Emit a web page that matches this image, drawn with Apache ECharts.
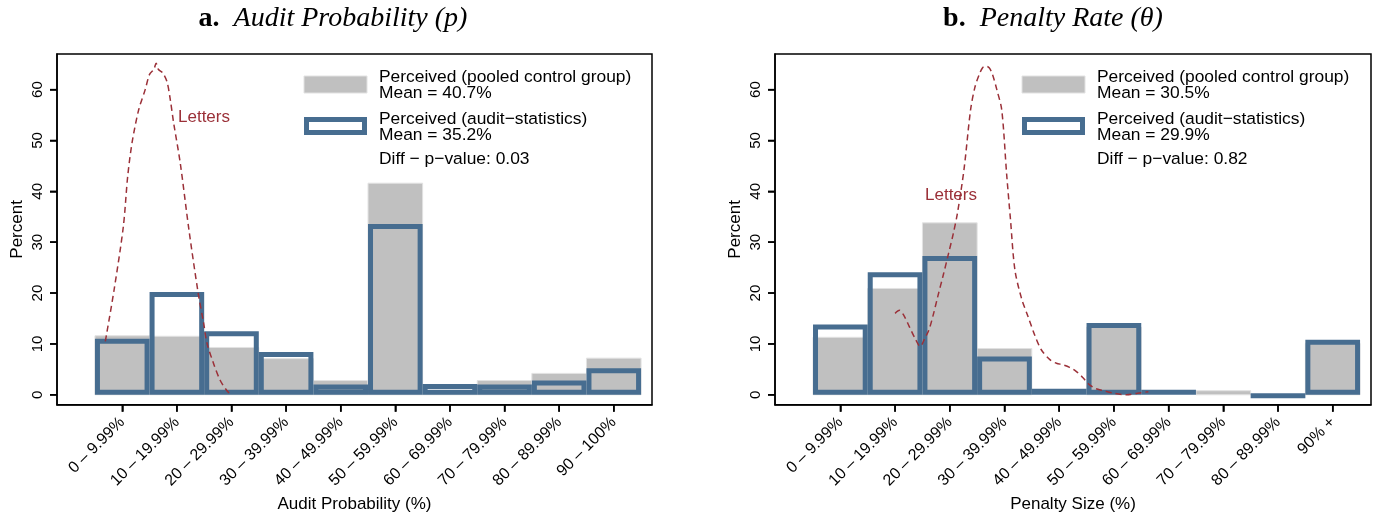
<!DOCTYPE html>
<html><head><meta charset="utf-8">
<script src="https://cdn.jsdelivr.net/npm/echarts@6/dist/echarts.min.js"></script>
<style>html,body{margin:0;padding:0;background:#fff}#c{width:1377px;height:518px}</style>
</head><body><div id="c"></div>
<script>
// ---------------- data ----------------
const auditCats = ['0 – 9.99%','10 – 19.99%','20 – 29.99%','30 – 39.99%','40 – 49.99%','50 – 59.99%','60 – 69.99%','70 – 79.99%','80 – 89.99%','90 – 100%'];
const penaltyCats = ['0 – 9.99%','10 – 19.99%','20 – 29.99%','30 – 39.99%','40 – 49.99%','50 – 59.99%','60 – 69.99%','70 – 79.99%','80 – 89.99%','90% +'];
const yTicks = [0,10,20,30,40,50,60];
const xTicks = [0,1,2,3,4,5,6,7,8,9];

const auditControl = [11.6, 11.5, 9.3, 7.1, 2.8, 41.6, 0.5, 2.8, 4.2, 7.2];
const auditStats   = [11.0, 20.2, 12.5, 8.4, 2.0, 33.6, 2.1, 2.0, 2.8, 5.2];
const penaltyControl = [11.3, 20.9, 33.8, 9.1, 0.0, 13.3, 0.0, 0.8, 0.0, 10.1];
const penaltyStats   = [13.8, 24.1, 27.3, 7.5, 1.2, 14.1, 1.0, 0.0, 0.3, 10.8];

// "Letters" density curves (x in bin-index units, y in percent)
const lettersAudit = [[-0.31,10.5],[-0.15,20.6],[0.02,33.1],[0.10,43.0],[0.18,49.6],[0.30,56.0],[0.42,60.0],[0.50,63.0],[0.58,64.0],[0.62,65.2],[0.66,64.0],[0.74,63.3],[0.82,61.5],[0.88,58.0],[0.94,53.5],[1.06,45.7],[1.22,32.5],[1.39,20.0],[1.49,14.1],[1.55,10.2],[1.67,6.2],[1.79,2.9],[1.91,0.9],[1.99,0.0]];
const lettersPenalty = [[1.00,16.0],[1.08,16.6],[1.16,15.6],[1.26,13.4],[1.36,11.2],[1.46,9.5],[1.54,11.0],[1.62,12.8],[1.70,15.8],[1.78,19.3],[1.88,23.5],[1.98,27.9],[2.06,31.5],[2.14,35.7],[2.26,44.3],[2.38,56.0],[2.46,60.5],[2.54,63.0],[2.60,64.3],[2.66,64.6],[2.72,64.3],[2.78,63.0],[2.86,60.0],[2.95,56.0],[3.04,43.3],[3.11,34.4],[3.19,24.6],[3.31,19.0],[3.43,15.4],[3.55,11.8],[3.67,8.9],[3.83,6.9],[3.95,6.2],[4.07,5.9],[4.19,5.4],[4.31,4.6],[4.43,3.4],[4.55,2.0],[4.67,1.2],[4.79,0.85],[5.00,0.3],[5.23,0.0],[5.43,0.3],[5.63,0.6]];

const legendA = ['Perceived (pooled control group)','Mean = 40.7%','Perceived (audit−statistics)','Mean = 35.2%','Diff − p−value: 0.03'];
const legendB = ['Perceived (pooled control group)','Mean = 30.5%','Perceived (audit−statistics)','Mean = 29.9%','Diff − p−value: 0.82'];

// ---------------- styles ----------------
const FONT = '"Liberation Sans", Arial, sans-serif';
const SERIF = '"Liberation Serif", "Times New Roman", serif';
const GRAY = '#c0c0c0', GRAY_EDGE = '#e2e2e2';
const BLUE = '#476d90';
const RED = '#9b3038';
const LW = 5;
const XMIN = -1.195, XMAX = 9.70, YMIN = -1.97, YMAX = 67;
const TICK = 7;

function grayBar(params, api) {
  const i = api.value(0), v = api.value(1);
  const p0 = api.coord([i - 0.5, 0]), p1 = api.coord([i + 0.5, v]);
  const h = p0[1] - p1[1];
  if (h <= 0.01) return null;
  return {type:'rect', shape:{x:p0[0], y:p1[1], width:p1[0]-p0[0], height:h},
    style:{fill:GRAY, stroke:GRAY_EDGE, lineWidth:1}};
}
function blueBar(params, api) {
  const i = api.value(0), v = api.value(1);
  const p0 = api.coord([i - 0.5, 0]), p1 = api.coord([i + 0.5, v]);
  const x0 = p0[0], x1 = p1[0], top = p1[1], bot = p0[1];
  const h = bot - top;
  if (h <= 0.01) return null;
  if (h <= LW) {
    return {type:'rect', shape:{x:x0, y:top, width:x1-x0, height:LW}, style:{fill:BLUE}};
  }
  return {type:'rect', shape:{x:x0+LW/2, y:top+LW/2, width:x1-x0-LW, height:h-LW},
    style:{fill:'none', stroke:BLUE, lineWidth:LW}};
}

function xAxis(gi, cats, name) {
  return {type:'value', gridIndex:gi, min:XMIN, max:XMAX, position:'bottom',
    axisLine:{show:true, onZero:false, lineStyle:{color:'#000', width:1.5}}, splitLine:{show:false},
    axisTick:{show:true, inside:false, customValues:xTicks, length:TICK, lineStyle:{color:'#000', width:1.5}},
    axisLabel:{customValues:xTicks, rotate:45, margin:15, fontSize:16, fontFamily:FONT, color:'#000',
      formatter:(v)=>cats[Math.round(v)]},
    name:name, nameLocation:'middle', nameGap:91, nameTextStyle:{fontSize:17, fontFamily:FONT, color:'#000'}};
}
function yAxis(gi) {
  return {type:'value', gridIndex:gi, min:YMIN, max:YMAX, position:'left',
    axisLine:{show:true, onZero:false, lineStyle:{color:'#000', width:1.5}}, splitLine:{show:false},
    axisTick:{show:true, inside:false, customValues:yTicks, length:TICK, lineStyle:{color:'#000', width:1.5}},
    axisLabel:{customValues:yTicks, rotate:90, margin:12, fontSize:15, fontFamily:FONT, color:'#000'},
    name:'Percent', nameLocation:'middle', nameRotate:90, nameGap:31,
    nameTextStyle:{fontSize:17, fontFamily:FONT, color:'#000'}};
}

function legendGraphics(dx, texts) {
  const els = [];
  els.push({type:'rect', shape:{x:304+dx, y:76, width:63, height:17}, style:{fill:GRAY, stroke:GRAY_EDGE, lineWidth:1}});
  els.push({type:'rect', shape:{x:304+dx+LW/2, y:117+LW/2, width:63-LW, height:18-LW}, style:{fill:'#fff', stroke:BLUE, lineWidth:LW}});
  const ys = [77, 93.5, 119, 135, 159];
  texts.forEach((t, k) => {
    els.push({type:'text', x:379+dx, y:ys[k],
      style:{text:t, font:'17.4px ' + FONT, fill:'#000', verticalAlign:'middle', textVerticalAlign:'middle', align:'left'}});
  });
  return els;
}

function titleGraphic(x, label, text) {
  return {type:'text', x:x, y:19, style:{
    text:'{b|' + label + '}{i|' + text + '}', align:'center', textAlign:'center', verticalAlign:'middle', textVerticalAlign:'middle',
    rich:{b:{fontFamily:SERIF, fontWeight:'bold', fontSize:28, fill:'#000', color:'#000', padding:[0,14,0,0]},
          i:{fontFamily:SERIF, fontStyle:'italic', fontSize:28, fill:'#000', color:'#000'}}}};
}

function panelSeries(gi, control, stats, letters) {
  return [
    {type:'custom', xAxisIndex:gi, yAxisIndex:gi, z:2, renderItem:grayBar, data:control.map((v,i)=>[i,v])},
    {type:'custom', xAxisIndex:gi, yAxisIndex:gi, z:3, renderItem:blueBar, data:stats.map((v,i)=>[i,v])},
    {type:'line', xAxisIndex:gi, yAxisIndex:gi, z:4, data:letters, symbol:'none', smooth:0.3,
      lineStyle:{color:RED, width:1.5, type:[6,4]}}
  ];
}

const staticGraphics = [
  titleGraphic(333, 'a.', 'Audit Probability (p)'),
  titleGraphic(1053, 'b.', 'Penalty Rate (θ)'),
  ...legendGraphics(0, legendA),
  ...legendGraphics(718, legendB),
  {type:'text', x:178, y:117, style:{text:'Letters', font:'17px ' + FONT, fill:RED, verticalAlign:'middle', textVerticalAlign:'middle'}},
  {type:'text', x:925, y:195, style:{text:'Letters', font:'17px ' + FONT, fill:RED, verticalAlign:'middle', textVerticalAlign:'middle'}}
];

const chart = echarts.init(document.getElementById('c'), null, {renderer:'canvas'});
chart.setOption({
  animation:false,
  backgroundColor:'#fff',
  grid:[
    {left:57, right:725, top:54, bottom:113, show:true, borderColor:'#000', borderWidth:1.5, backgroundColor:'transparent'},
    {left:775, right:6, top:54, bottom:113, show:true, borderColor:'#000', borderWidth:1.5, backgroundColor:'transparent'}
  ],
  xAxis:[xAxis(0, auditCats, 'Audit Probability (%)'), xAxis(1, penaltyCats, 'Penalty Size (%)')],
  yAxis:[yAxis(0), yAxis(1)],
  series:[
    ...panelSeries(0, auditControl, auditStats, lettersAudit),
    ...panelSeries(1, penaltyControl, penaltyStats, lettersPenalty)
  ],
  graphic:{elements:staticGraphics}
});

// extra tick marks placed through the axes' own scales (overlap the axis ticks exactly)
const tickEls = [];
[0, 1].forEach(gi => {
  const finder = {gridIndex:gi};
  yTicks.forEach(v => {
    const p = chart.convertToPixel(finder, [XMIN, v]);
    if (!p || !isFinite(p[0]) || !isFinite(p[1])) return;
    tickEls.push({type:'line', z:100, shape:{x1:p[0]-TICK, y1:p[1], x2:p[0], y2:p[1]}, style:{stroke:'#000', lineWidth:1.5}});
  });
  xTicks.forEach(v => {
    const p = chart.convertToPixel(finder, [v, YMIN]);
    if (!p || !isFinite(p[0]) || !isFinite(p[1])) return;
    tickEls.push({type:'line', z:100, shape:{x1:p[0], y1:p[1], x2:p[0], y2:p[1]+TICK}, style:{stroke:'#000', lineWidth:1.5}});
  });
});
chart.setOption({graphic:{elements:staticGraphics.concat(tickEls)}}, {replaceMerge:['graphic']});
</script></body></html>
